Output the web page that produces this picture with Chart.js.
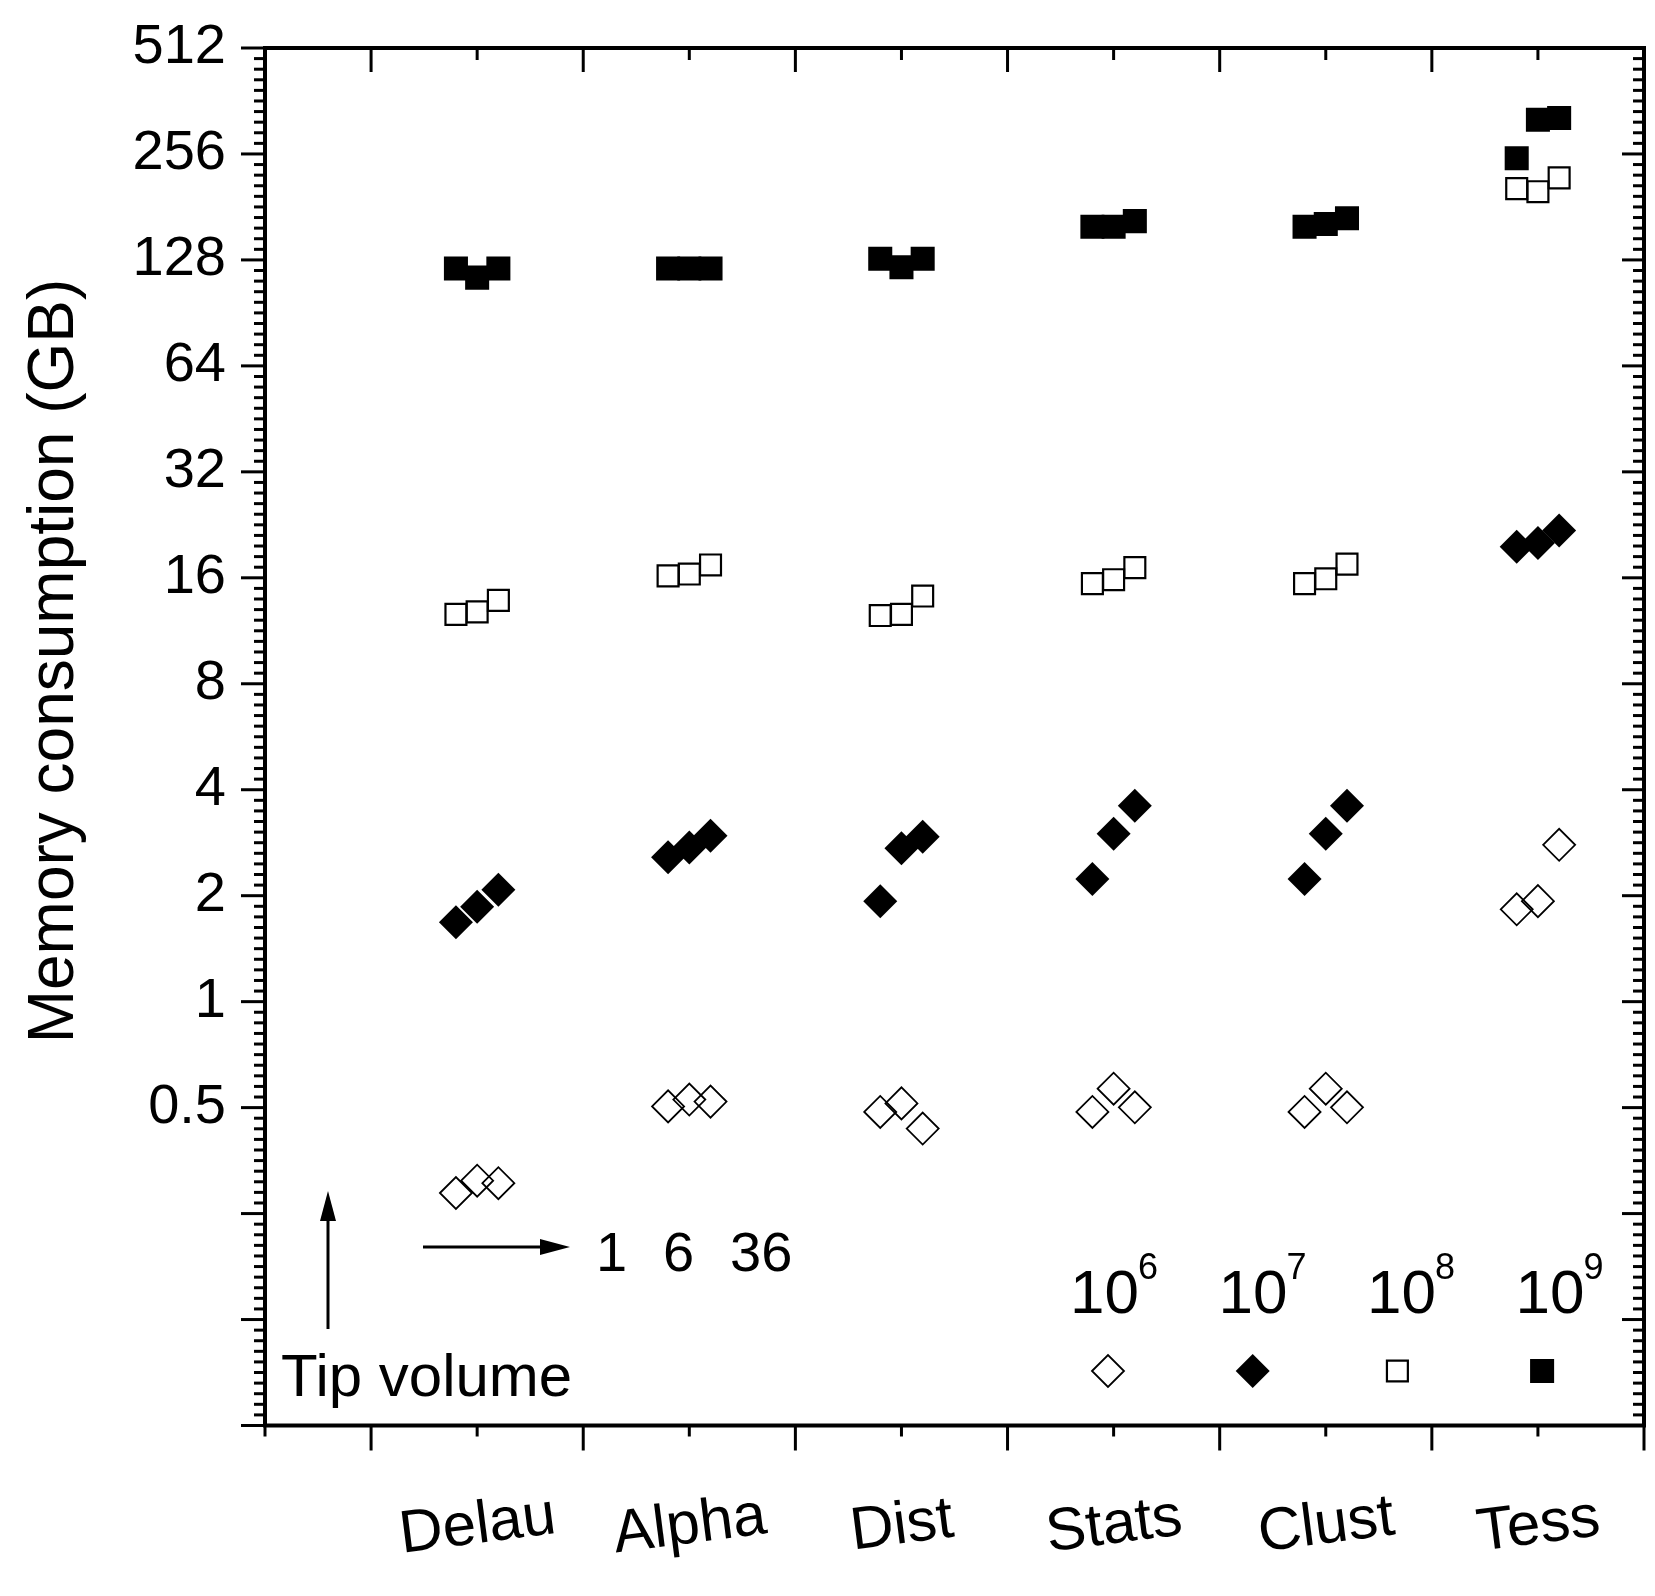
<!DOCTYPE html>
<html>
<head>
<meta charset="utf-8">
<title>Memory consumption</title>
<script src="https://cdn.jsdelivr.net/npm/chart.js@4.4.0/dist/chart.umd.min.js"></script>
<style>
  html, body { margin: 0; padding: 0; background: #fff; }
  #wrap { width: 1655px; height: 1596px; }
</style>
</head>
<body>
<div id="wrap"><canvas id="myChart" width="1655" height="1596"></canvas></div>
<script>
// categories on the x axis (placed at 2, 4, ... 12)
var categories = ['Delau', 'Alpha', 'Dist', 'Stats', 'Clust', 'Tess'];
// tip volume for the 3 points in each group
var tipVolumes = [1, 6, 36];
// y tick labels (GB)
var yTicks = [0.5, 1, 2, 4, 8, 16, 32, 64, 128, 256, 512];
// legend exponents (number of atoms 10^n)
var sizeExponents = ['6', '7', '8', '9'];

// memory (GB), one row per category, one value per tip volume
var mem1e6 = [
    [0.286, 0.310, 0.305],
    [0.504, 0.527, 0.520],
    [0.486, 0.514, 0.436],
    [0.486, 0.566, 0.501],
    [0.486, 0.566, 0.501],
    [1.83, 1.93, 2.79]
];
var mem1e7 = [
    [1.68, 1.86, 2.08],
    [2.57, 2.74, 2.96],
    [1.93, 2.73, 2.94],
    [2.23, 3.0, 3.6],
    [2.23, 3.0, 3.6],
    [19.6, 20.1, 21.8]
];
var mem1e8 = [
    [12.6, 12.8, 13.8],
    [16.2, 16.4, 17.4],
    [12.5, 12.6, 14.2],
    [15.4, 15.8, 17.1],
    [15.4, 15.9, 17.5],
    [204, 200, 219]
];
var mem1e9 = [
    [121, 114, 121],
    [121, 121, 121],
    [129, 122, 129],
    [159, 159, 165],
    [159, 162, 168],
    [249, 320, 324]
];

var FONT = '"Liberation Sans", Arial, Helvetica, sans-serif';

// marker styles for 10^6 .. 10^9
var markers = [
    { style: 'rectRot', radius: 16, fill: 'rgba(0,0,0,0)', border: 1.8 },
    { style: 'rectRot', radius: 17, fill: '#000', border: 0 },
    { style: 'rect', radius: 14.8, fill: 'rgba(0,0,0,0)', border: 2.2 },
    { style: 'rect', radius: 17, fill: '#000', border: 0 }
];

function toPoints(rows) {
    var pts = [];
    rows.forEach(function (row, c) {
        row.forEach(function (v, t) {
            pts.push({ x: 2 * (c + 1) + (t - 1) * 0.2, y: v });
        });
    });
    return pts;
}

var allSeries = [mem1e6, mem1e7, mem1e8, mem1e9];
var datasets = allSeries.map(function (rows, i) {
    var m = markers[i];
    return {
        label: '10^' + sizeExponents[i],
        data: toPoints(rows),
        showLine: false,
        pointStyle: m.style,
        pointRadius: m.radius,
        pointHoverRadius: m.radius,
        pointBackgroundColor: m.fill,
        pointBorderColor: '#000',
        pointBorderWidth: m.border,
        pointHoverBorderWidth: m.border
    };
});

function line(ctx, x1, y1, x2, y2) {
    ctx.beginPath();
    ctx.moveTo(x1, y1);
    ctx.lineTo(x2, y2);
    ctx.stroke();
}

function marker(ctx, m, x, y) {
    var r = m.radius;
    ctx.beginPath();
    if (m.style === 'rectRot') {
        ctx.moveTo(x - r, y);
        ctx.lineTo(x, y - r);
        ctx.lineTo(x + r, y);
        ctx.lineTo(x, y + r);
        ctx.closePath();
    } else {
        var s = r * Math.SQRT1_2;
        ctx.rect(x - s, y - s, 2 * s, 2 * s);
    }
    if (m.border === 0) {
        ctx.fillStyle = '#000';
        ctx.fill();
    } else {
        ctx.lineWidth = m.border;
        ctx.strokeStyle = '#000';
        ctx.stroke();
    }
}

function arrow(ctx, x1, y1, x2, y2) {
    var ang = Math.atan2(y2 - y1, x2 - x1);
    var hl = 30, hw = 8;
    ctx.lineWidth = 3;
    line(ctx, x1, y1, x2 - Math.cos(ang) * hl * 0.8, y2 - Math.sin(ang) * hl * 0.8);
    ctx.beginPath();
    ctx.moveTo(x2, y2);
    ctx.lineTo(x2 - Math.cos(ang) * hl - Math.sin(ang) * hw, y2 - Math.sin(ang) * hl + Math.cos(ang) * hw);
    ctx.lineTo(x2 - Math.cos(ang) * hl + Math.sin(ang) * hw, y2 - Math.sin(ang) * hl - Math.cos(ang) * hw);
    ctx.closePath();
    ctx.fill();
}

var framePlugin = {
    id: 'framePlugin',
    afterDraw: function (chart) {
        var ctx = chart.ctx;
        var a = chart.chartArea;
        var xs = chart.scales.x;
        var ys = chart.scales.y;
        ctx.save();
        ctx.strokeStyle = '#000';
        ctx.fillStyle = '#000';
        ctx.lineCap = 'butt';

        // y ticks, log2 spaced, 9 minor per octave
        ctx.lineWidth = 3;
        for (var k = -4; k <= 9; k++) {
            for (var j = 0; j < 10; j++) {
                if (k === 9 && j > 0) break;
                var py = ys.getPixelForValue(Math.pow(2, k + j / 10));
                var major = j === 0;
                line(ctx, a.left - (major ? 24 : 11), py, a.left, py);
                line(ctx, a.right - (major ? 22 : 11), py, a.right, py);
            }
        }
        // x ticks
        for (var v = 0; v <= 13; v++) {
            var px = xs.getPixelForValue(v);
            var long = v % 2 === 1;
            line(ctx, px, a.bottom, px, a.bottom + (long ? 25 : 11));
            line(ctx, px, a.top, px, a.top + (long ? 24 : 12));
        }
        // frame
        ctx.lineWidth = 4;
        ctx.strokeRect(a.left, a.top, a.right - a.left, a.bottom - a.top);

        // category labels, slightly tilted
        ctx.font = '60px ' + FONT;
        ctx.textAlign = 'center';
        ctx.textBaseline = 'alphabetic';
        categories.forEach(function (name, c) {
            var cx = xs.getPixelForValue(2 * (c + 1));
            ctx.save();
            ctx.translate(cx, 1522);
            ctx.rotate(-7.3 * Math.PI / 180);
            ctx.fillText(name, 0, 21);
            ctx.restore();
        });

        // y axis title
        ctx.save();
        ctx.font = '64px ' + FONT;
        ctx.translate(73, 661);
        ctx.rotate(-Math.PI / 2);
        ctx.textAlign = 'center';
        ctx.fillText('Memory consumption (GB)', 0, 0);
        ctx.restore();

        // tip volume annotation
        ctx.textAlign = 'left';
        ctx.font = '60px ' + FONT;
        ctx.fillText('Tip volume', 281, 1396);
        arrow(ctx, 328, 1329, 328, 1191);
        arrow(ctx, 423, 1247, 570, 1247);
        ctx.font = '56px ' + FONT;
        var tipX = [596, 663, 730];
        tipVolumes.forEach(function (t, i) {
            ctx.fillText(String(t), tipX[i], 1271);
        });

        // legend: 10^n with markers
        sizeExponents.forEach(function (e, i) {
            var lx = 1070 + i * 148.5;
            ctx.font = '62px ' + FONT;
            ctx.fillText('10', lx, 1313);
            var w = ctx.measureText('10').width;
            ctx.font = '36px ' + FONT;
            ctx.fillText(e, lx + w - 1, 1279);
            marker(ctx, markers[i], 1108 + i * 144.7, 1371);
        });
        ctx.restore();
    }
};

var ctx = document.getElementById('myChart').getContext('2d');
var myChart = new Chart(ctx, {
    type: 'scatter',
    data: { datasets: datasets },
    options: {
        responsive: false,
        animation: false,
        devicePixelRatio: 1,
        layout: {
            autoPadding: false,
            padding: { top: 48, right: 11, left: 0, bottom: 0 }
        },
        plugins: {
            legend: { display: false },
            tooltip: { enabled: false }
        },
        scales: {
            x: {
                type: 'linear',
                min: 0,
                max: 13,
                grid: { display: false, drawTicks: false },
                border: { display: false },
                ticks: { display: false },
                afterFit: function (scale) {
                    scale.height = 170.5;
                    scale.paddingLeft = 0;
                    scale.paddingRight = 0;
                }
            },
            y: {
                type: 'logarithmic',
                min: 0.0625,
                max: 512,
                grid: { display: false, drawTicks: false },
                border: { display: false },
                afterBuildTicks: function (scale) {
                    scale.ticks = yTicks.map(function (v) { return { value: v }; });
                },
                ticks: {
                    autoSkip: false,
                    padding: 39,
                    color: '#000',
                    font: { family: FONT, size: 56 },
                    callback: function (value) { return String(value); }
                },
                afterFit: function (scale) {
                    scale.width = 265;
                    scale.paddingTop = 0;
                    scale.paddingBottom = 0;
                }
            }
        }
    },
    plugins: [framePlugin]
});
</script>
</body>
</html>
